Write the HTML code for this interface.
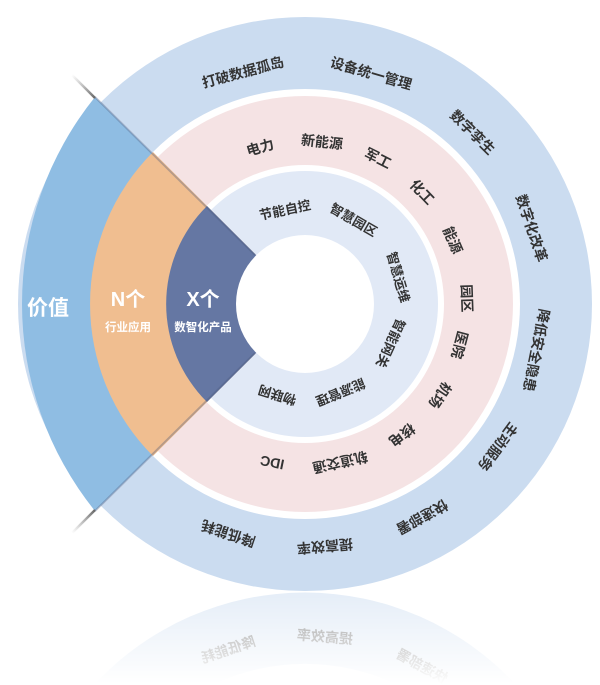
<!DOCTYPE html>
<html><head><meta charset="utf-8"><style>
html,body{margin:0;padding:0;background:#fff;width:600px;height:685px;overflow:hidden}
svg{display:block;overflow:hidden}
text{font-family:"Liberation Sans","Noto Sans CJK SC",sans-serif;font-weight:bold;fill:#333}
</style></head><body>
<svg width="600" height="685" viewBox="0 0 600 685">
<defs>
<linearGradient id="fade" x1="0" y1="593" x2="0" y2="684" gradientUnits="userSpaceOnUse">
<stop offset="0" stop-color="#fff" stop-opacity="0.5"/>
<stop offset="1" stop-color="#fff" stop-opacity="0"/>
</linearGradient>
<mask id="m"><rect x="0" y="592" width="600" height="93" fill="url(#fade)"/></mask>
<linearGradient id="gl1" x1="72" y1="75" x2="95" y2="98" gradientUnits="userSpaceOnUse">
<stop offset="0" stop-color="#888" stop-opacity="0"/><stop offset="1" stop-color="#666"/></linearGradient>
<linearGradient id="gl2" x1="72" y1="533" x2="95" y2="510" gradientUnits="userSpaceOnUse">
<stop offset="0" stop-color="#888" stop-opacity="0"/><stop offset="1" stop-color="#666"/></linearGradient>
</defs>
<circle cx="305" cy="304" r="287" fill="#cbdcf0"/>
<circle cx="305" cy="304" r="215" fill="#fff"/>
<circle cx="305" cy="304" r="208" fill="#f5e3e4"/>
<circle cx="305" cy="304" r="139" fill="#fff"/>
<circle cx="305" cy="304" r="133" fill="#e1e9f6"/>
<path d="M305,304 L95,97 A330,330 0 0 0 95,511 Z" fill="#8fbde3"/>
<path d="M305,304 L153,152 A215,215 0 0 0 153,456 Z" fill="#f0be90"/>
<path d="M305,304 L207,206 A138,138 0 0 0 207,402 Z" fill="#6577a3"/>
<line x1="95" y1="97" x2="255" y2="255" stroke="#4a5a7a" stroke-opacity="0.35" stroke-width="2"/>
<line x1="95" y1="511" x2="255" y2="353" stroke="#4a5a7a" stroke-opacity="0.35" stroke-width="2"/>
<line x1="72" y1="75" x2="95" y2="98" stroke="url(#gl1)" stroke-width="2.5"/>
<line x1="72" y1="533" x2="95" y2="510" stroke="url(#gl2)" stroke-width="2.5"/>
<circle cx="305" cy="304" r="69" fill="#fff"/>

<g font-size="14">
<text transform="translate(305,304) rotate(-105) translate(240,0) rotate(90)" text-anchor="middle" dominant-baseline="central">打破数据孤岛</text>
<text transform="translate(305,304) rotate(-74) translate(240,0) rotate(90)" text-anchor="middle" dominant-baseline="central">设备统一管理</text>
<text transform="translate(305,304) rotate(-45.7) translate(240,0) rotate(90)" text-anchor="middle" dominant-baseline="central">数字孪生</text>
<text transform="translate(305,304) rotate(-18.5) translate(239,0) rotate(90)" text-anchor="middle" dominant-baseline="central">数字化改革</text>
<text transform="translate(305,304) rotate(11.3) translate(236,0) rotate(90)" text-anchor="middle" dominant-baseline="central">降低安全隐患</text>
<text transform="translate(305,304) rotate(36.5) translate(240,0) rotate(90)" text-anchor="middle" dominant-baseline="central">主动服务</text>
<text transform="translate(305,304) rotate(61.2) translate(243,0) rotate(90)" text-anchor="middle" dominant-baseline="central">快速部署</text>
<text transform="translate(305,304) rotate(85.3) translate(243,0) rotate(90)" text-anchor="middle" dominant-baseline="central">提高效率</text>
<text transform="translate(305,304) rotate(108.5) translate(242,0) rotate(90)" text-anchor="middle" dominant-baseline="central">降低能耗</text>
</g>
<g font-size="14">
<text transform="translate(305,304) rotate(-106) translate(163,0) rotate(90)" text-anchor="middle" dominant-baseline="central">电力</text>
<text transform="translate(305,304) rotate(-84) translate(163,0) rotate(90)" text-anchor="middle" dominant-baseline="central">新能源</text>
<text transform="translate(305,304) rotate(-63.4) translate(163,0) rotate(90)" text-anchor="middle" dominant-baseline="central">军工</text>
<text transform="translate(305,304) rotate(-43.7) translate(162,0) rotate(90)" text-anchor="middle" dominant-baseline="central">化工</text>
<text transform="translate(305,304) rotate(-23.4) translate(161,0) rotate(90)" text-anchor="middle" dominant-baseline="central">能源</text>
<text transform="translate(305,304) rotate(-2) translate(162,0) rotate(90)" text-anchor="middle" dominant-baseline="central">园区</text>
<text transform="translate(305,304) rotate(14.8) translate(160,0) rotate(90)" text-anchor="middle" dominant-baseline="central">医院</text>
<text transform="translate(305,304) rotate(34) translate(163,0) rotate(90)" text-anchor="middle" dominant-baseline="central">机场</text>
<text transform="translate(305,304) rotate(53.5) translate(163,0) rotate(90)" text-anchor="middle" dominant-baseline="central">核电</text>
<text transform="translate(305,304) rotate(77.5) translate(162,0) rotate(90)" text-anchor="middle" dominant-baseline="central">轨道交通</text>
<text transform="translate(305,304) rotate(101.7) translate(162,0) rotate(90)" text-anchor="middle" dominant-baseline="central">IDC</text>
</g>
<g font-size="13">
<text transform="translate(305,304) rotate(-102) translate(96,0) rotate(90)" text-anchor="middle" dominant-baseline="central">节能自控</text>
<text transform="translate(305,304) rotate(-60) translate(97,0) rotate(90)" text-anchor="middle" dominant-baseline="central">智慧园区</text>
<text transform="translate(305,304) rotate(-16) translate(97,0) rotate(90)" text-anchor="middle" dominant-baseline="central">智慧运维</text>
<text transform="translate(305,304) rotate(24.6) translate(94,0) rotate(90)" text-anchor="middle" dominant-baseline="central">智能网关</text>
<text transform="translate(305,304) rotate(68) translate(95,0) rotate(90)" text-anchor="middle" dominant-baseline="central">能源管理</text>
<text transform="translate(305,304) rotate(107) translate(95,0) rotate(90)" text-anchor="middle" dominant-baseline="central">物联网</text>
</g>
<text x="48" y="315" font-size="21" text-anchor="middle" style="fill:#fff">价值</text>
<text x="128" y="306" font-size="20" text-anchor="middle" style="fill:#fff">N个</text>
<text x="128" y="331" font-size="11.5" text-anchor="middle" style="fill:#fff">行业应用</text>
<text x="203" y="306" font-size="20" text-anchor="middle" style="fill:#fff">X个</text>
<text x="203" y="331" font-size="11.5" text-anchor="middle" style="fill:#fff">数智化产品</text>

<g mask="url(#m)">
<path d="M94,685 A287,287 0 0 1 516,685 Z" fill="#cbdcf0"/>
<path d="M212,685 A215,215 0 0 1 398,685 Z" fill="#fff"/>
<g transform="translate(0,1183) scale(1,-1)" font-size="14">
<text transform="translate(305,304) rotate(61.2) translate(243,0) rotate(90)" text-anchor="middle" dominant-baseline="central">快速部署</text>
<text transform="translate(305,304) rotate(85.3) translate(243,0) rotate(90)" text-anchor="middle" dominant-baseline="central">提高效率</text>
<text transform="translate(305,304) rotate(108.5) translate(242,0) rotate(90)" text-anchor="middle" dominant-baseline="central">降低能耗</text>
</g>
</g>
</svg>
</body></html>
